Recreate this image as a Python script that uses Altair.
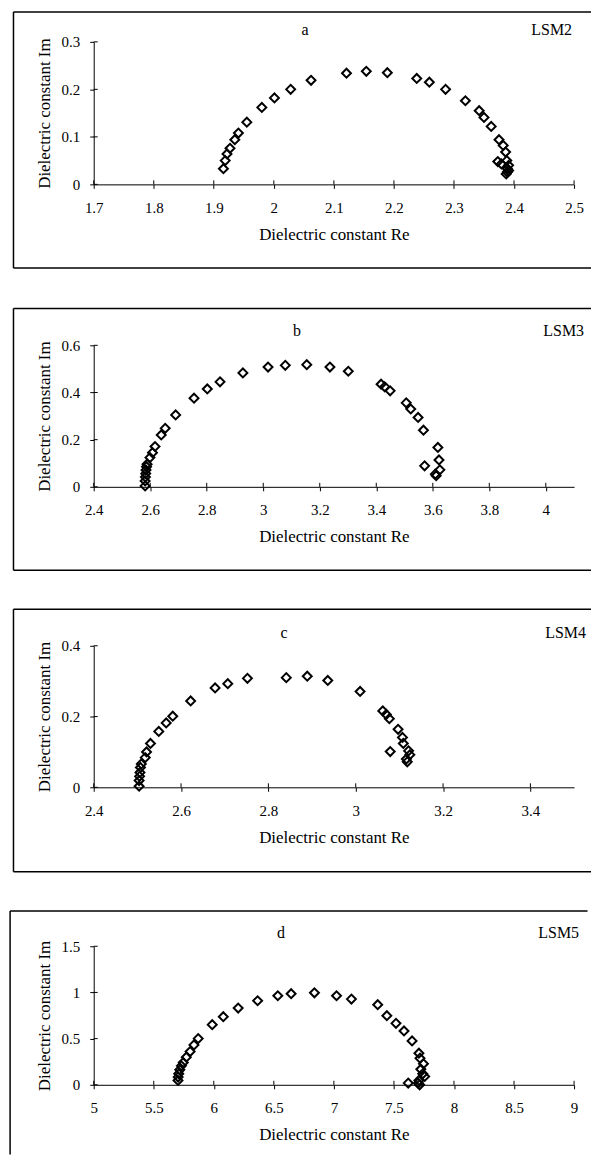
import altair as alt
import pandas as pd

FONT = "Liberation Serif"

# ---- data ----
re_a = [1.916, 1.919, 1.922, 1.927, 1.935, 1.941, 1.955, 1.980, 2.001, 2.028, 2.062, 2.121,
        2.154, 2.189, 2.238, 2.259, 2.286, 2.319, 2.342, 2.350, 2.362, 2.375, 2.382, 2.386,
        2.388, 2.391, 2.389, 2.391, 2.389, 2.387, 2.379, 2.373]
im_a = [0.033, 0.050, 0.064, 0.076, 0.094, 0.108, 0.131, 0.162, 0.182, 0.200, 0.219, 0.234,
        0.238, 0.235, 0.223, 0.215, 0.200, 0.176, 0.155, 0.141, 0.122, 0.094, 0.082, 0.068,
        0.050, 0.040, 0.033, 0.029, 0.026, 0.022, 0.043, 0.048]

re_b = [2.582, 2.582, 2.583, 2.584, 2.585, 2.587, 2.589, 2.599, 2.608, 2.617, 2.639, 2.653,
        2.690, 2.755, 2.802, 2.847, 2.928, 3.017, 3.078, 3.154, 3.236, 3.301, 3.417, 3.430,
        3.449, 3.506, 3.522, 3.548, 3.567, 3.618, 3.622, 3.571, 3.625, 3.609, 3.612]
im_b = [0.004, 0.025, 0.042, 0.056, 0.071, 0.085, 0.096, 0.124, 0.145, 0.171, 0.220, 0.248,
        0.305, 0.376, 0.415, 0.445, 0.483, 0.508, 0.515, 0.518, 0.508, 0.490, 0.435, 0.424,
        0.407, 0.356, 0.330, 0.294, 0.240, 0.167, 0.114, 0.089, 0.072, 0.054, 0.047]

re_c = [2.504, 2.504, 2.505, 2.506, 2.507, 2.509, 2.518, 2.521, 2.530, 2.549, 2.566, 2.581,
        2.622, 2.678, 2.707, 2.752, 2.841, 2.889, 2.936, 3.010, 3.062, 3.070, 3.077, 3.097,
        3.107, 3.109, 3.079, 3.121, 3.124, 3.116, 3.118]
im_c = [0.003, 0.019, 0.031, 0.042, 0.056, 0.066, 0.084, 0.100, 0.124, 0.158, 0.182, 0.201,
        0.244, 0.281, 0.293, 0.308, 0.310, 0.314, 0.302, 0.271, 0.216, 0.206, 0.194, 0.164,
        0.141, 0.124, 0.101, 0.103, 0.092, 0.080, 0.072]

re_d = [5.702, 5.703, 5.708, 5.717, 5.730, 5.746, 5.771, 5.803, 5.835, 5.870, 5.987, 6.079,
        6.203, 6.365, 6.533, 6.644, 6.838, 7.022, 7.146, 7.365, 7.441, 7.517, 7.584, 7.651,
        7.708, 7.717, 7.746, 7.724, 7.740, 7.756, 7.708, 7.619, 7.702, 7.714]
im_d = [0.047, 0.083, 0.119, 0.162, 0.205, 0.241, 0.299, 0.360, 0.432, 0.500, 0.651, 0.737,
        0.831, 0.910, 0.964, 0.986, 0.996, 0.964, 0.928, 0.867, 0.748, 0.665, 0.583, 0.475,
        0.342, 0.288, 0.227, 0.169, 0.119, 0.090, 0.047, 0.018, 0.018, 0.0]

xticks_a = [1.7, 1.8, 1.9, 2.0, 2.1, 2.2, 2.3, 2.4, 2.5]
yticks_a = [0, 0.1, 0.2, 0.3]
xticks_b = [2.4, 2.6, 2.8, 3.0, 3.2, 3.4, 3.6, 3.8, 4.0]
yticks_b = [0, 0.2, 0.4, 0.6]
xticks_c = [2.4, 2.6, 2.8, 3.0, 3.2, 3.4]
yticks_c = [0, 0.2, 0.4]
xticks_d = [5, 5.5, 6, 6.5, 7, 7.5, 8, 8.5, 9]
yticks_d = [0, 0.5, 1, 1.5]

X_TITLE = "Dielectric constant Re"
Y_TITLE = "Dielectric constant Im"
W = 482

AX_COMMON = dict(
    format="~g", grid=False,
    labelFont=FONT, labelFontSize=15, labelColor="black",
    titleFont=FONT, titleFontSize=17, titleColor="black", titleFontWeight="normal",
    tickSize=4, tickColor="black", tickWidth=1,
    domainColor="black", domainWidth=1,
    labelFlush=False, labelOverlap=False,
)


def panel(re, im, xdom, xticks, ydom, yticks, h, letter, letter_x, lsm, lsm_x,
          top, bottom, left, right, text_y, left_end=None):
    xs = alt.Scale(domain=xdom, nice=False, zero=False)
    ys = alt.Scale(domain=ydom, nice=False, zero=False)
    xax = alt.Axis(values=xticks, title=X_TITLE, labelPadding=12, titlePadding=11, **AX_COMMON)
    yax = alt.Axis(values=yticks, title=Y_TITLE, labelPadding=10, titlePadding=8, **AX_COMMON)
    pts = alt.Chart(pd.DataFrame({"re": re, "im": im})).mark_point(
        shape="diamond", filled=False, size=80, strokeWidth=2, color="black",
        opacity=1, clip=False
    ).encode(
        x=alt.X("re:Q", scale=xs, axis=xax),
        y=alt.Y("im:Q", scale=ys, axis=yax),
    )
    xt = alt.Chart(pd.DataFrame({"re": xticks})).mark_rule(color="black", strokeWidth=1).encode(
        x=alt.X("re:Q", scale=xs, axis=xax), y=alt.value(h - 4), y2=alt.value(h))
    yt = alt.Chart(pd.DataFrame({"im": yticks})).mark_rule(color="black", strokeWidth=1).encode(
        y=alt.Y("im:Q", scale=ys, axis=yax), x=alt.value(0), x2=alt.value(4))
    one = pd.DataFrame({"k": [0]})
    layers = [pts, xt, yt]
    bstyle = dict(color="black", strokeWidth=1.5)
    layers.append(alt.Chart(one).mark_rule(**bstyle).encode(
        x=alt.value(left), x2=alt.value(right), y=alt.value(top)))
    layers.append(alt.Chart(one).mark_rule(**bstyle).encode(
        x=alt.value(left), y=alt.value(top),
        y2=alt.value(bottom if left_end is None else left_end)))
    if bottom is not None and left_end is None:
        layers.append(alt.Chart(one).mark_rule(**bstyle).encode(
            x=alt.value(left), x2=alt.value(right), y=alt.value(bottom)))
    layers.append(alt.Chart(one).mark_text(
        text=letter, font=FONT, fontSize=16, color="black", align="center", baseline="middle"
    ).encode(x=alt.value(letter_x), y=alt.value(text_y)))
    layers.append(alt.Chart(one).mark_text(
        text=lsm, font=FONT, fontSize=16, color="black", align="right", baseline="middle"
    ).encode(x=alt.value(lsm_x), y=alt.value(text_y)))
    return alt.layer(*layers).properties(width=W, height=h)


pa = panel(re_a, im_a, [1.7, 2.5], xticks_a, [0, 0.3], yticks_a, 143, "a", 212, "LSM2", 480,
           -30, 227, -80.5, 499, -12)
pb = panel(re_b, im_b, [2.4, 4.1], xticks_b, [0, 0.6], yticks_b, 142, "b", 204, "LSM3", 492,
           -37, 225.7, -80.5, 499, -14)
pc = panel(re_c, im_c, [2.4, 3.5], xticks_c, [0, 0.4], yticks_c, 142, "c", 191, "LSM4", 494,
           -36.7, 226.7, -80.5, 499, -12.5)
pd_ = panel(re_d, im_d, [5, 9], xticks_d, [0, 1.5], yticks_d, 139, "d", 188, "LSM5", 487,
            -35.3, None, -83.9, 495.5, -13.5, left_end=209)

chart = alt.vconcat(pa, pb, pc, pd_, spacing=36.5).properties(
    padding=0,
    background="white",
).configure_view(stroke="transparent")

chart.save("out.html", embed_options={"renderer": "svg", "actions": False})
